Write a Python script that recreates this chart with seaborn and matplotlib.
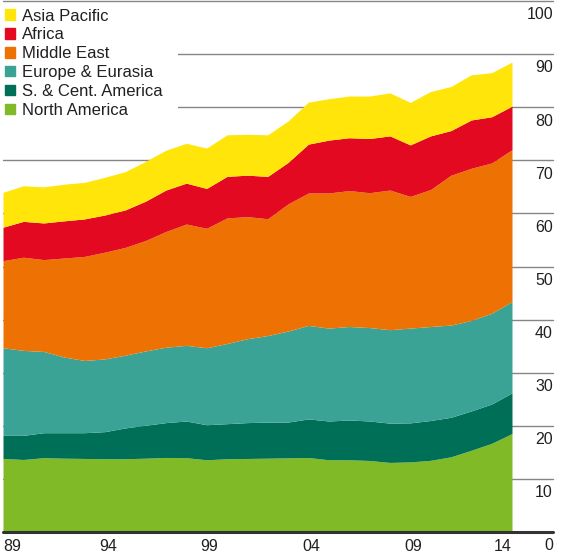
import numpy as np
import pandas as pd
import seaborn as sns
import matplotlib
matplotlib.use("Agg")
import matplotlib.pyplot as plt
from matplotlib.patches import Patch, Rectangle
from matplotlib.transforms import ScaledTranslation

# oil production by region, million barrels daily
years = list(range(1989, 2015))
north_america = [13.85, 13.66, 14.0, 13.9, 13.85, 13.8, 13.8, 13.9, 14.04, 14.0, 13.6, 13.8, 13.85,
                 13.9, 13.97, 14.03, 13.6, 13.6, 13.47, 13.1, 13.2, 13.5, 14.16, 15.4, 16.7, 18.55]
s_cent_america = [4.35, 4.54, 4.7, 4.8, 4.85, 5.1, 5.8, 6.2, 6.56, 6.9, 6.6, 6.6, 6.75,
                  6.8, 6.73, 7.27, 7.3, 7.5, 7.43, 7.4, 7.35, 7.5, 7.44, 7.4, 7.4, 7.65]
europe_eurasia = [16.5, 16.0, 15.3, 14.25, 13.6, 13.7, 13.7, 14.0, 14.2, 14.25, 14.5, 15.1, 15.8,
                  16.3, 17.15, 17.6, 17.5, 17.6, 17.6, 17.6, 17.85, 17.7, 17.37, 17.05, 17.1, 17.2]
middle_east = [16.4, 17.55, 17.3, 18.65, 19.6, 20.1, 20.3, 20.8, 21.8, 22.85, 22.5, 23.65, 23.0,
               22.0, 23.95, 24.95, 25.45, 25.6, 25.4, 26.3, 24.8, 25.8, 28.23, 28.65, 28.3, 28.6]
africa = [6.3, 6.75, 6.9, 7.0, 7.06, 7.0, 7.05, 7.4, 7.8, 7.7, 7.5, 7.82, 7.8,
          7.97, 7.8, 9.2, 9.95, 9.95, 10.2, 10.2, 9.7, 10.1, 8.4, 9.1, 8.7, 8.2]
asia_pacific = [6.57, 6.7, 6.8, 6.9, 6.89, 7.1, 7.21, 7.5, 7.5, 7.5, 7.6, 7.83, 7.7,
                7.83, 7.8, 7.9, 7.8, 7.85, 8.0, 8.1, 8.0, 8.36, 8.3, 8.5, 8.3, 8.3]

regions = ['North America', 'S. & Cent. America', 'Europe & Eurasia',
           'Middle East', 'Africa', 'Asia Pacific']
colors = ['#80BA27', '#006F57', '#3BA396', '#EE7203', '#E30920', '#FFE50A']
xtick_years = [1989, 1994, 1999, 2004, 2009, 2014]
xtick_labels = ['89', '94', '99', '04', '09', '14']
ytick_values = [0, 10, 20, 30, 40, 50, 60, 70, 80, 90, 100]

df = pd.DataFrame({'year': years,
                   'North America': north_america,
                   'S. & Cent. America': s_cent_america,
                   'Europe & Eurasia': europe_eurasia,
                   'Middle East': middle_east,
                   'Africa': africa,
                   'Asia Pacific': asia_pacific}).set_index('year')

sns.set_theme(style='white')
plt.rcParams['font.family'] = ['Liberation Sans', 'DejaVu Sans']
text_col = '#231f20'

fig = plt.figure(figsize=(5.67, 5.56), dpi=100)
ax = fig.add_axes([3 / 567, 24 / 556, 550 / 567, 531 / 556])

ax.stackplot(df.index, *[df[r] for r in regions], colors=colors, linewidth=0, zorder=2)

ax.set_xlim(1989, 2014 + 41 / 20.36)
ax.set_ylim(0, 100)
for s in ax.spines.values():
    s.set_visible(False)

# horizontal grid lines
for v in ytick_values[1:]:
    ax.axhline(v, color='#858585', lw=1.0, zorder=0.5, clip_on=False)
ax.axhline(0, color='#333333', lw=2.2, zorder=3, clip_on=False)

# white block behind the legend hides the grid there
ax.add_patch(Rectangle((0, 0.77), 0.318, 0.222, transform=ax.transAxes,
                       facecolor='white', edgecolor='none', zorder=0.8))

# y labels sit just under their grid lines, on the right
ax.set_yticks([])
for v in ytick_values:
    ax.text(1, v - 2.6, str(v), transform=ax.get_yaxis_transform(),
            ha='right', va='center', fontsize=11.5, color=text_col)

ax.set_xticks(xtick_years)
ax.set_xticklabels(xtick_labels, fontsize=11.5, color=text_col)
ax.tick_params(axis='x', length=0, pad=5)
lbls = ax.get_xticklabels()
lbls[0].set_ha('left')
lbls[-1].set_ha('right')
for lb in lbls[1:-1]:
    lb.set_transform(lb.get_transform() + ScaledTranslation(3 / 100, 0, fig.dpi_scale_trans))

handles = [Patch(color=c, label=r) for r, c in zip(regions, colors)][::-1]
leg = ax.legend(handles=handles, loc='upper left', bbox_to_anchor=(-0.003, 0.992),
                fontsize=12, frameon=True, framealpha=1, facecolor='white',
                edgecolor='white', fancybox=False, borderpad=0.2,
                handlelength=0.6, handleheight=0.6, handletextpad=0.42,
                labelspacing=0.23, borderaxespad=0)
leg.get_frame().set_linewidth(0)
for t in leg.get_texts():
    t.set_color(text_col)

fig.savefig('out.png', dpi=100)
